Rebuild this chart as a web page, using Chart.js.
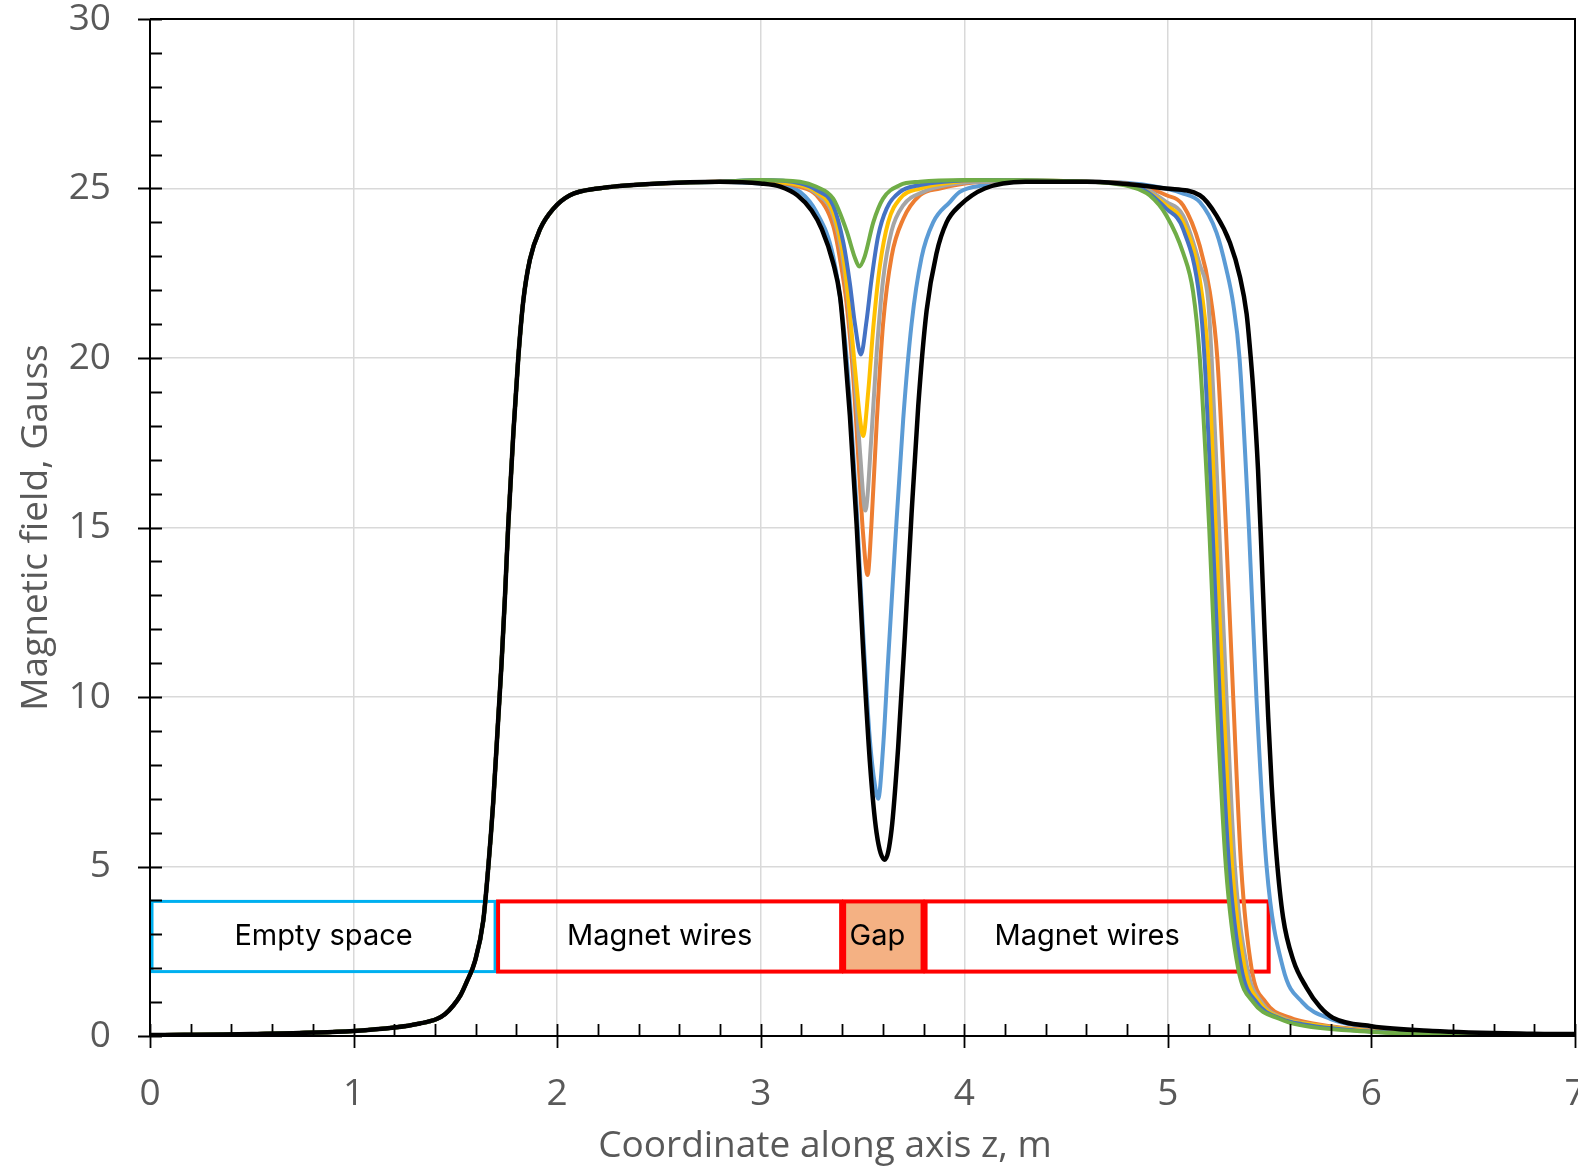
<!DOCTYPE html>
<html>
<head>
<meta charset="utf-8">
<script src="https://cdn.jsdelivr.net/npm/chart.js@4/dist/chart.umd.min.js"></script>
<style>
html,body{margin:0;padding:0;background:#fff;}
#wrap{width:1578px;height:1169px;position:relative;}
</style>
</head>
<body>
<div id="wrap"><canvas id="c" width="1578" height="1169"></canvas></div>
<script>
// ---------------- DATA ----------------
const xTickValues = [0, 1, 2, 3, 4, 5, 6, 7];
const yTickValues = [0, 5, 10, 15, 20, 25, 30];
const xTitle = "Coordinate along axis z, m";
const yTitle = "Magnetic field, Gauss";

// common rising edge (all series coincide here)
const riseZ = [0, 0.5, 1.0, 1.2, 1.326, 1.408, 1.45, 1.49, 1.525, 1.556, 1.596, 1.637, 1.662, 1.686, 1.711, 1.727, 1.744, 1.760, 1.785, 1.809, 1.834, 1.866, 1.916, 1.981, 2.063, 2.2, 2.5, 2.8];
const riseB = [0.03, 0.06, 0.15, 0.25, 0.37, 0.5, 0.65, 0.9, 1.2, 1.6, 2.2, 3.4, 5.0, 6.9, 9.4, 11.0, 13.0, 15.1, 17.8, 20.0, 21.7, 22.9, 23.8, 24.4, 24.8, 25.0, 25.15, 25.2];

const greenZ = [3.0, 3.193, 3.274, 3.356, 3.422, 3.463, 3.484, 3.511, 3.553, 3.601, 3.684, 3.782, 4.0, 4.6, 4.83, 4.91, 4.993, 5.075, 5.124, 5.157, 5.203, 5.239, 5.285, 5.345, 5.419, 5.55, 5.65, 6.0, 6.5, 7.0];
const greenB = [25.25, 25.2, 25.05, 24.7, 23.75, 22.95, 22.7, 23.0, 24.0, 24.7, 25.1, 25.2, 25.25, 25.2, 25.03, 24.8, 24.2, 23.1, 21.95, 20.0, 15.0, 10.0, 5.0, 2.0, 1.0, 0.5, 0.32, 0.12, 0.05, 0.03];

const blueZ = [3.0, 3.193, 3.274, 3.356, 3.406, 3.438, 3.463, 3.492, 3.520, 3.544, 3.577, 3.618, 3.684, 3.782, 3.9, 4.1, 4.6, 4.85, 4.993, 5.075, 5.157, 5.18, 5.219, 5.255, 5.301, 5.361, 5.435, 5.56, 5.66, 6.0, 6.5, 7.0];
const blueB = [25.25, 25.15, 24.95, 24.5, 23.4, 22.2, 21.0, 20.1, 21.1, 22.3, 23.6, 24.4, 24.9, 25.1, 25.2, 25.25, 25.2, 25.05, 24.4, 23.8, 21.7, 20.0, 15.0, 10.0, 5.0, 2.0, 1.0, 0.5, 0.35, 0.13, 0.05, 0.03];

const yellowZ = [3.0, 3.193, 3.274, 3.356, 3.406, 3.438, 3.463, 3.488, 3.503, 3.528, 3.553, 3.585, 3.626, 3.684, 3.782, 3.9, 4.1, 4.6, 4.85, 4.993, 5.075, 5.157, 5.198, 5.235, 5.272, 5.316, 5.378, 5.45, 5.57, 5.68, 6.0, 6.5, 7.0];
const yellowB = [25.2, 25.1, 24.9, 24.3, 23.0, 21.3, 19.7, 18.2, 17.7, 19.0, 20.9, 22.7, 24.0, 24.7, 25.0, 25.15, 25.25, 25.2, 25.05, 24.5, 24.0, 22.3, 20.0, 15.0, 10.0, 5.0, 2.0, 1.0, 0.5, 0.36, 0.14, 0.05, 0.03];

const grayZ = [3.0, 3.193, 3.274, 3.356, 3.406, 3.438, 3.463, 3.488, 3.514, 3.544, 3.569, 3.601, 3.643, 3.700, 3.798, 3.913, 4.1, 4.6, 4.85, 4.993, 5.075, 5.157, 5.198, 5.215, 5.252, 5.288, 5.329, 5.39, 5.46, 5.58, 5.7, 6.0, 6.5, 7.0];
const grayB = [25.2, 25.1, 24.85, 24.2, 22.8, 21.1, 19.3, 17.2, 15.5, 17.7, 20.1, 22.3, 23.75, 24.5, 24.9, 25.1, 25.2, 25.2, 25.1, 24.6, 24.2, 22.75, 21.7, 20.0, 15.0, 10.0, 5.0, 2.0, 1.0, 0.5, 0.35, 0.15, 0.05, 0.03];

const orangeZ = [3.0, 3.193, 3.274, 3.356, 3.39, 3.422, 3.455, 3.480, 3.503, 3.525, 3.544, 3.569, 3.601, 3.643, 3.700, 3.782, 3.88, 4.1, 4.6, 4.85, 4.993, 5.075, 5.157, 5.206, 5.243, 5.285, 5.321, 5.36, 5.411, 5.48, 5.6, 5.72, 6.0, 6.5, 7.0];
const orangeB = [25.2, 25.05, 24.8, 23.9, 22.9, 21.6, 19.4, 17.0, 14.8, 13.6, 15.1, 18.0, 21.0, 23.0, 24.1, 24.8, 25.0, 25.2, 25.2, 25.1, 24.8, 24.5, 23.3, 21.95, 20.0, 15.0, 10.0, 5.0, 2.0, 1.0, 0.54, 0.36, 0.16, 0.06, 0.03];

const lightBlueZ = [3.0, 3.1, 3.193, 3.274, 3.356, 3.406, 3.438, 3.471, 3.503, 3.536, 3.561, 3.577, 3.601, 3.626, 3.659, 3.700, 3.741, 3.790, 3.847, 3.929, 3.978, 4.1, 4.3, 4.6, 4.9, 5.075, 5.157, 5.239, 5.288, 5.321, 5.352, 5.398, 5.435, 5.485, 5.566, 5.66, 5.8, 6.0, 6.5, 7.0];
const lightBlueB = [25.15, 25.1, 24.9, 24.3, 23.0, 21.0, 18.75, 15.6, 11.9, 8.75, 7.4, 7.0, 8.5, 11.1, 14.4, 18.2, 21.0, 22.96, 24.0, 24.6, 24.9, 25.1, 25.2, 25.2, 25.1, 24.85, 24.6, 23.7, 22.6, 21.6, 20.0, 15.0, 10.0, 5.0, 2.0, 1.0, 0.5, 0.25, 0.08, 0.04];

const blackZ = [3.0, 3.1, 3.18, 3.25, 3.30, 3.356, 3.39, 3.406, 3.438, 3.471, 3.503, 3.536, 3.569, 3.610, 3.643, 3.675, 3.708, 3.741, 3.774, 3.815, 3.864, 3.913, 3.978, 4.1, 4.3, 4.6, 4.993, 5.157, 5.239, 5.305, 5.354, 5.387, 5.403, 5.419, 5.443, 5.46, 5.476, 5.493, 5.51, 5.534, 5.566, 5.616, 5.681, 5.747, 5.81, 6.0, 6.3, 6.79, 7.0];
const blackB = [25.15, 25.05, 24.8, 24.35, 23.8, 22.8, 21.8, 20.8, 18.3, 15.1, 11.4, 8.1, 6.0, 5.2, 6.1, 8.5, 11.8, 15.4, 18.6, 21.4, 23.1, 24.0, 24.5, 25.0, 25.2, 25.2, 25.0, 24.8, 24.2, 23.4, 22.4, 21.3, 20.3, 19.1, 16.7, 14.25, 11.8, 9.4, 7.4, 5.3, 3.5, 2.24, 1.43, 0.86, 0.54, 0.29, 0.15, 0.07, 0.06];

// annotated regions along z
const regionLabels = ["Empty space", "Magnet wires", "Gap", "Magnet wires"];
const regionStart  = [0, 1.7, 3.4, 3.8];
const regionEnd    = [1.7, 3.4, 3.8, 5.5];

// ---------------- BUILD ----------------
function pts(zs, bs) { return zs.map((z, i) => ({ x: z, y: bs[i] })); }
function series(zs, bs) { return pts(riseZ, riseB).concat(pts(zs, bs)); }

const FONT = "'Open Sans', sans-serif";
const GREY_TXT = '#595959';

const seriesDefs = [
  { z: blackZ,     b: blackB,     color: '#000000', w: 4.5 },
  { z: greenZ,     b: greenB,     color: '#70AD47', w: 4 },
  { z: blueZ,      b: blueB,      color: '#4472C4', w: 4 },
  { z: yellowZ,    b: yellowB,    color: '#FFC000', w: 4 },
  { z: grayZ,      b: grayB,      color: '#A5A5A5', w: 4 },
  { z: orangeZ,    b: orangeB,    color: '#ED7D31', w: 4 },
  { z: lightBlueZ, b: lightBlueB, color: '#5B9BD5', w: 4 }
];

const regionStyle = [
  { stroke: '#00B0F0', width: 3, fill: null, dx: 0 },
  { stroke: '#FF0000', width: 4, fill: null, dx: -10 },
  { stroke: '#FF0000', width: 4, fill: '#F4B183', dx: -6 },
  { stroke: '#FF0000', width: 4, fill: null, dx: -10 }
];

const regionPlugin = {
  id: 'regions',
  beforeDatasetsDraw(chart) {
    const { ctx } = chart;
    const x = chart.scales.x, y = chart.scales.y;
    const yTop = y.getPixelForValue(3.97), yBot = y.getPixelForValue(1.9);
    ctx.save();
    for (let i = 0; i < regionLabels.length; i++) {
      const st = regionStyle[i];
      const x0 = x.getPixelForValue(regionStart[i]) + 2;
      const x1 = x.getPixelForValue(regionEnd[i]) - 1;
      if (st.fill) { ctx.fillStyle = st.fill; ctx.fillRect(x0, yTop, x1 - x0, yBot - yTop); }
      ctx.lineWidth = st.width; ctx.strokeStyle = st.stroke;
      ctx.strokeRect(x0, yTop, x1 - x0, yBot - yTop);
      ctx.fillStyle = '#000';
      ctx.font = "29px Inter, 'Open Sans', sans-serif";
      ctx.textAlign = 'center'; ctx.textBaseline = 'middle';
      ctx.fillText(regionLabels[i], (x0 + x1) / 2 + st.dx, (yTop + yBot) / 2);
    }
    ctx.restore();
  }
};

const axesPlugin = {
  id: 'axesDeco',
  afterDatasetsDraw(chart) {
    const { ctx, chartArea: ca } = chart;
    const x = chart.scales.x, y = chart.scales.y;
    ctx.save();
    ctx.strokeStyle = '#000'; ctx.lineWidth = 2;
    ctx.beginPath();
    ctx.moveTo(ca.left, ca.top); ctx.lineTo(ca.right, ca.top); ctx.lineTo(ca.right, ca.bottom);
    ctx.stroke();
    ctx.beginPath();
    ctx.moveTo(ca.left, ca.top); ctx.lineTo(ca.left, ca.bottom); ctx.lineTo(ca.right, ca.bottom);
    ctx.stroke();
    ctx.lineWidth = 1.8;
    ctx.beginPath();
    for (let i = 0; i <= 35; i++) {
      const px = Math.round(x.getPixelForValue(i / 5)) + 0.5;
      const major = i % 5 === 0;
      ctx.moveTo(px, ca.bottom - 12);
      ctx.lineTo(px, major ? ca.bottom + 12 : ca.bottom);
    }
    for (let i = 0; i <= 30; i++) {
      const py = Math.round(y.getPixelForValue(i)) + 0.5;
      const major = i % 5 === 0;
      ctx.moveTo(major ? ca.left - 12 : ca.left, py);
      ctx.lineTo(ca.left + 12, py);
    }
    ctx.stroke();
    ctx.restore();
  },
  afterDraw(chart) {
    const { ctx, chartArea: ca } = chart;
    ctx.save();
    ctx.fillStyle = GREY_TXT;
    ctx.font = "37px " + FONT;
    ctx.textAlign = 'center'; ctx.textBaseline = 'middle';
    ctx.fillText(xTitle, 825, 1146);
    ctx.translate(36, (ca.top + ca.bottom) / 2);
    ctx.rotate(-Math.PI / 2);
    ctx.fillText(yTitle, 0, 0);
    ctx.restore();
  }
};

function zeroPad(s) { s.paddingTop = 0; s.paddingBottom = 0; s.paddingLeft = 0; s.paddingRight = 0; }

new Chart(document.getElementById('c'), {
  type: 'line',
  data: {
    datasets: seriesDefs.map(s => ({
      data: series(s.z, s.b),
      borderColor: s.color,
      backgroundColor: s.color,
      borderWidth: s.w,
      pointRadius: 0,
      fill: false,
      cubicInterpolationMode: 'monotone'
    }))
  },
  options: {
    responsive: false,
    animation: false,
    devicePixelRatio: 1,
    layout: { padding: { top: 19, right: 3, left: 0, bottom: 0 }, autoPadding: false },
    plugins: { legend: { display: false }, tooltip: { enabled: false }, title: { display: false } },
    scales: {
      x: {
        type: 'linear', min: 0, max: 7,
        afterFit(s) { s.height = 133; zeroPad(s); },
        afterBuildTicks(s) { s.ticks = xTickValues.map(v => ({ value: v })); },
        ticks: { color: GREY_TXT, font: { family: FONT, size: 37 }, padding: 36, maxRotation: 0, autoSkip: false },
        grid: { color: '#D9D9D9', lineWidth: 1.5, drawTicks: false },
        border: { display: false }
      },
      y: {
        type: 'linear', min: 0, max: 30,
        afterFit(s) { s.width = 150; zeroPad(s); },
        afterBuildTicks(s) { s.ticks = yTickValues.map(v => ({ value: v })); },
        ticks: { color: GREY_TXT, font: { family: FONT, size: 37 }, padding: 39 },
        grid: { color: '#D9D9D9', lineWidth: 1.5, drawTicks: false },
        border: { display: false }
      }
    }
  },
  plugins: [regionPlugin, axesPlugin]
});
</script>
</body>
</html>
